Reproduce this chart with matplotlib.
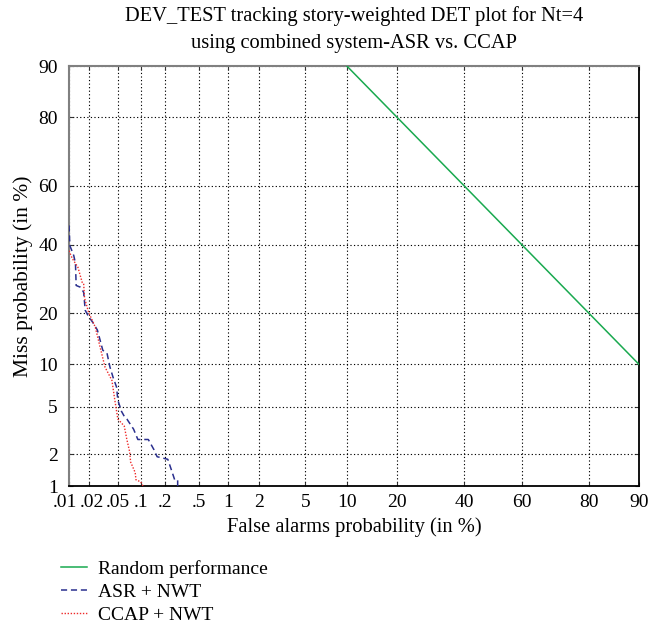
import numpy as np
import matplotlib.pyplot as plt
import matplotlib.transforms as mtransforms
from matplotlib.ticker import NullLocator
from statistics import NormalDist

plt.rcParams['font.family'] = ['Liberation Serif', 'DejaVu Serif']

# probabilities in percent
pfa_random = [10, 90]
pmiss_random = [90, 10]

pfa_asr = [0.0100, 0.0103, 0.0118, 0.0125, 0.0128, 0.0148, 0.0165, 0.0174, 0.0190,
           0.0227, 0.0260, 0.0285, 0.0310, 0.0355, 0.0390, 0.0430, 0.0480, 0.0500,
           0.0560, 0.0610, 0.0660, 0.0810, 0.0920, 0.1250, 0.1470, 0.1610, 0.2170,
           0.2420, 0.2620, 0.2840, 0.2840]
pmiss_asr = [46.5, 39.7, 36.4, 33.9, 27.3, 26.8, 25.4, 20.7, 19.5,
             17.7, 16.2, 14.1, 12.3, 11.8, 9.6, 8.2, 7.0, 5.6,
             4.6, 4.2, 4.0, 3.3, 2.7, 2.7, 2.2, 1.9, 1.8,
             1.4, 1.15, 1.15, 1.0]

pfa_ccap = [0.0100, 0.0112, 0.0136, 0.0157, 0.0165, 0.0170, 0.0195, 0.0243, 0.0285,
            0.0333, 0.0415, 0.0455, 0.0500, 0.0610, 0.0660, 0.0720, 0.0740, 0.0850,
            0.0870, 0.1000, 0.1070]
pmiss_ccap = [38.0, 35.5, 32.7, 28.2, 27.9, 23.8, 20.2, 16.8, 12.8,
              9.6, 7.8, 5.6, 4.0, 3.5, 2.7, 2.1, 1.7, 1.35,
              1.15, 1.1, 1.0]

xticks = [0.01, 0.02, 0.05, 0.1, 0.2, 0.5, 1, 2, 5, 10, 20, 40, 60, 80, 90]
xticklabels = ['.01', '.02', '.05', '.1', '.2', '.5', '1', '2', '5', '10', '20', '40', '60', '80', '90']
yticks = [1, 2, 5, 10, 20, 40, 60, 80, 90]
yticklabels = ['1', '2', '5', '10', '20', '40', '60', '80', '90']

_nd = NormalDist()
_ppf = np.vectorize(_nd.inv_cdf, otypes=[float])
_cdf = np.vectorize(_nd.cdf, otypes=[float])


def probit(p):
    p = np.clip(np.asarray(p, dtype=float) / 100.0, 1e-10, 1 - 1e-10)
    return _ppf(p)


def inv_probit(z):
    return 100.0 * _cdf(np.asarray(z, dtype=float))


fig = plt.figure(figsize=(6.51, 6.41), dpi=100)
ax = fig.add_axes([69 / 651, 1 - 486 / 641, 570 / 651, 420 / 641])
ax.set_xscale('function', functions=(probit, inv_probit))
ax.set_yscale('function', functions=(probit, inv_probit))

ax.plot(pfa_random, pmiss_random, color='#19a94f', lw=1.1, label='Random performance', zorder=3)
ax.plot(pfa_asr, pmiss_asr, color='#2a2f8e', lw=1.1, linestyle=(0, (4, 2.5)), label='ASR + NWT', zorder=3)
ax.plot(pfa_ccap, pmiss_ccap, color='#ee2a2a', lw=1.0, linestyle=(0, (1, 1.2)), label='CCAP + NWT', zorder=3)

ax.set_xlim(0.01, 90)
ax.set_ylim(1, 90)
ax.set_xticks(xticks)
ax.set_xticklabels(xticklabels)
ax.set_yticks(yticks)
ax.set_yticklabels(yticklabels)
ax.xaxis.set_minor_locator(NullLocator())
ax.yaxis.set_minor_locator(NullLocator())

ax.grid(True, color='black', lw=0.8, linestyle=(0, (1.1, 2.1)))
ax.tick_params(direction='in', length=3, top=True, right=True, labelsize=14,
               color='#333333')
ax.tick_params(axis='x', pad=6)
ax.tick_params(axis='y', pad=8)

# nudge the two crowded labels at the left end apart
xl = ax.get_xticklabels()
xl[0].set_transform(xl[0].get_transform() + mtransforms.ScaledTranslation(-4 / 100, 0, fig.dpi_scale_trans))
xl[1].set_transform(xl[1].get_transform() + mtransforms.ScaledTranslation(3 / 100, 0, fig.dpi_scale_trans))

for side in ['left', 'top']:
    ax.spines[side].set_color('#808080')
    ax.spines[side].set_linewidth(1.5)
for side in ['right', 'bottom']:
    ax.spines[side].set_color('black')
    ax.spines[side].set_linewidth(1.3)

ax.set_title('DEV_TEST tracking story-weighted DET plot for Nt=4\nusing combined system-ASR vs. CCAP',
             fontsize=14.8, linespacing=1.55, pad=13)
ax.set_xlabel('False alarms probability (in %)', fontsize=14.8, labelpad=4)
ax.set_ylabel('Miss probability (in %)', fontsize=15.5, labelpad=4)

fig.legend(loc='upper left', bbox_to_anchor=(53 / 651, 1 - 552 / 641), frameon=False,
           fontsize=14, handlelength=1.35, handletextpad=0.55, labelspacing=0.28,
           borderaxespad=0)

fig.savefig('out.png', dpi=100)
